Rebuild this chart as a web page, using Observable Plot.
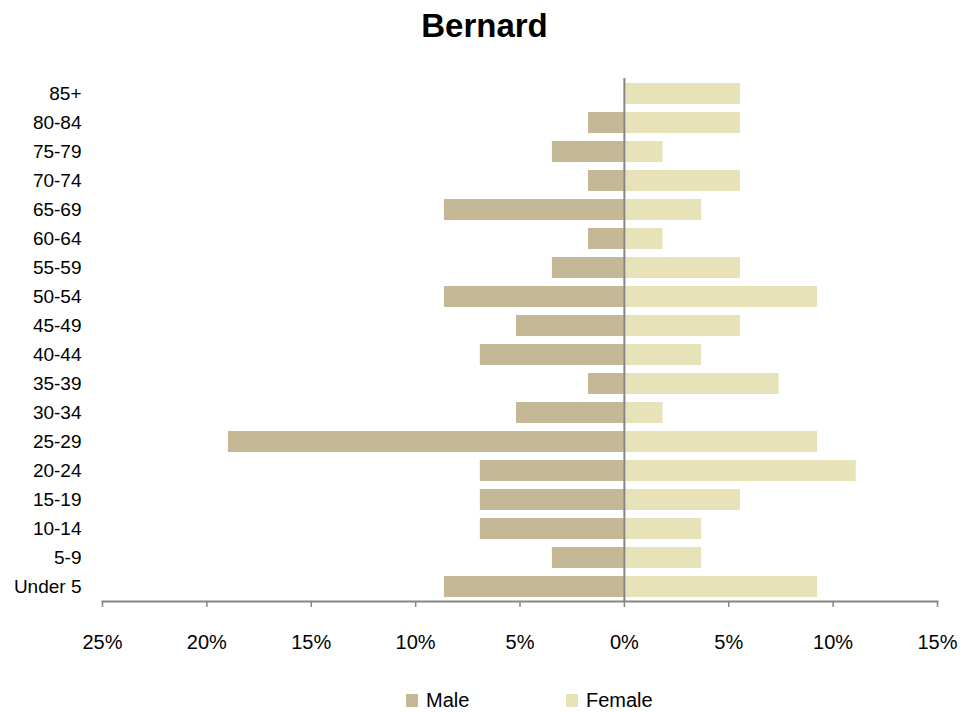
<!DOCTYPE html>
<html>
<head>
<meta charset="utf-8">
<script src="https://cdn.jsdelivr.net/npm/d3@7"></script>
<script src="https://cdn.jsdelivr.net/npm/@observablehq/plot@0.6"></script>
<style>
  body { margin: 0; background: #fff; font-family: "Liberation Sans", Arial, sans-serif; }
  #wrap { width: 979px; height: 713px; position: relative; overflow: hidden; }
  #title { height: 52px; line-height: 52px; text-align: center; font-weight: bold; font-size: 33px; color: #000; padding-right: 10px; }
  #chart svg { display: block; }
  #legend { height: 43px; position: relative; font-size: 20px; color: #000; }
  .item { position: absolute; top: 19px; display: flex; align-items: center; }
  .sw { width: 12px; height: 13px; margin-right: 8px; }
</style>
</head>
<body>
<div id="wrap">
  <div id="title">Bernard</div>
  <div id="chart"></div>
  <div id="legend"></div>
</div>
<script>
const ageGroups = ["Under 5","5-9","10-14","15-19","20-24","25-29","30-34","35-39","40-44","45-49","50-54","55-59","60-64","65-69","70-74","75-79","80-84","85+"];
const malePct   = [8.62, 3.45, 6.90, 6.90, 6.90, 18.97, 5.17, 1.72, 6.90, 5.17, 8.62, 3.45, 1.72, 8.62, 1.72, 3.45, 1.72, 0];
const femalePct = [9.26, 3.70, 3.70, 5.56, 11.11, 9.26, 1.85, 7.41, 3.70, 5.56, 9.26, 5.56, 1.85, 3.70, 5.56, 1.85, 5.56, 5.56];
const xTicks = [-25, -20, -15, -10, -5, 0, 5, 10, 15];
const seriesNames = ["Male", "Female"];
const seriesColors = ["#C4B896", "#E8E2B8"];

const rows = [];
ageGroups.forEach((g, i) => {
  rows.push({age: g, sex: "Male", value: -malePct[i]});
  rows.push({age: g, sex: "Female", value: femalePct[i]});
});

const plot = Plot.plot({
  width: 979,
  height: 618,
  marginTop: 26,
  marginBottom: 69,
  marginLeft: 102,
  marginRight: 42,
  style: { fontFamily: "Liberation Sans, Arial, sans-serif", fontSize: "19px", color: "#000", background: "#fff" },
  x: { domain: [-25, 15], label: null },
  y: { domain: ageGroups.slice().reverse(), paddingInner: 0.28, paddingOuter: 0.14, label: null },
  color: { domain: seriesNames, range: seriesColors },
  marks: [
    Plot.barX(rows, { y: "age", x1: 0, x2: "value", fill: "sex" }),
    Plot.ruleX([0], { stroke: "#868686", strokeWidth: 2 }),
    Plot.frame({ anchor: "bottom", stroke: "#868686", strokeWidth: 2 }),
    Plot.axisX({ ticks: xTicks, tickFormat: d => Math.abs(d) + "%", tickSize: 6, tickPadding: 27, stroke: "#868686", strokeWidth: 1.5, fill: "#000", fontSize: 20 }),
    Plot.axisY({ tickSize: 0, tickPadding: 21, fill: "#000", fontSize: 19 })
  ]
});
document.getElementById("chart").appendChild(plot);

const legend = document.getElementById("legend");
const lefts = [406, 566];
seriesNames.forEach((n, i) => {
  const it = document.createElement("div");
  it.className = "item";
  it.style.left = lefts[i] + "px";
  it.innerHTML = `<div class="sw" style="background:${seriesColors[i]}"></div><span>${n}</span>`;
  legend.appendChild(it);
});
</script>
</body>
</html>
